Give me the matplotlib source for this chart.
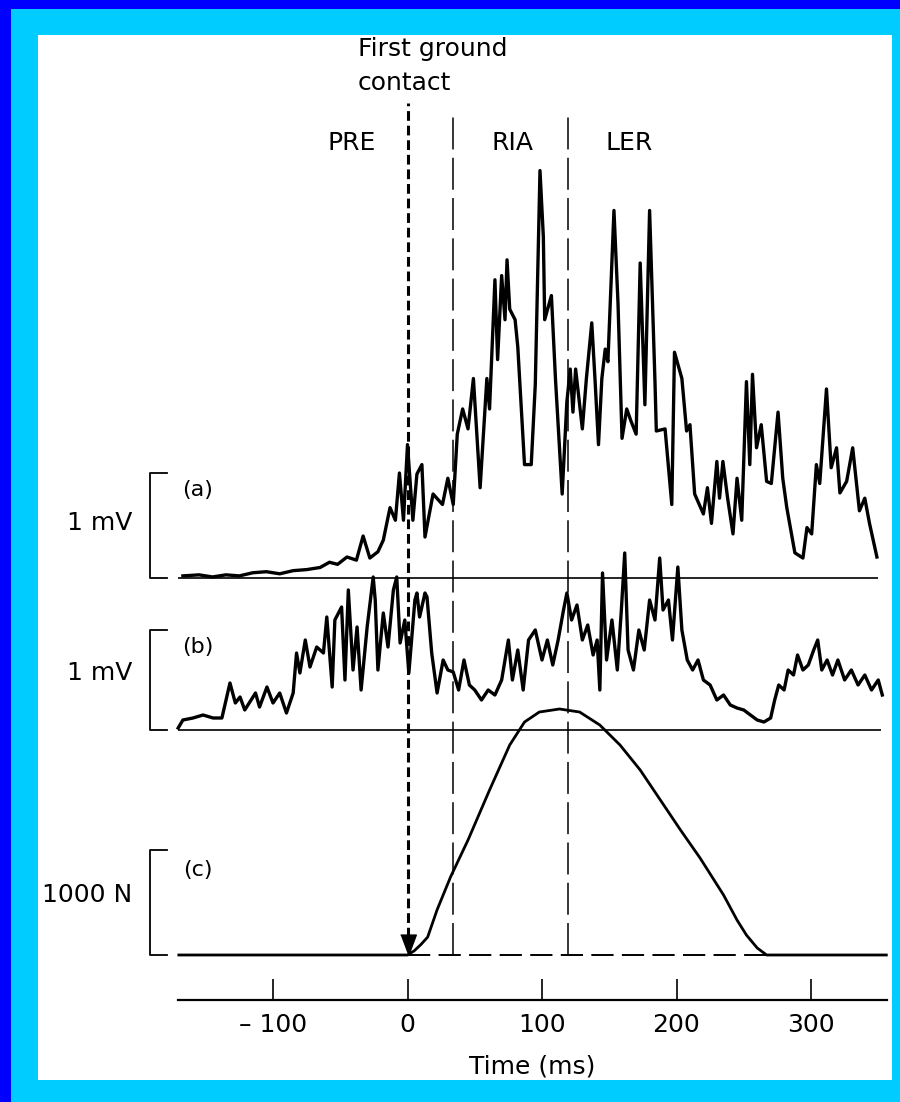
import matplotlib
matplotlib.use('Agg')
import matplotlib.pyplot as plt
from matplotlib.patches import Rectangle

plt.rcParams['font.family'] = ['DejaVu Sans']
plt.rcParams['lines.scale_dashes'] = False

# ---------------- data ----------------
emg_a_t = [-167, -155, -145, -135, -125, -115, -105, -95, -85, -75, -65, -58, -52, -45, -38, -33, -28,
           -22, -18, -13, -9, -6, -3, 0, 4, 7, 10.7, 13, 19, 26, 30, 34, 37, 41, 45, 49, 54, 59, 61, 65,
           67, 70, 72.5, 74, 76, 80, 82, 87, 92, 95, 98.5, 101, 102, 107, 110, 115, 118.5, 121, 123, 125,
           130, 133, 137, 139.5, 142, 144.5, 147, 149, 153.5, 156.5, 159.5, 163, 166, 170, 173, 176.5,
           180, 184, 185, 191.5, 196.5, 198.5, 204, 207.5, 210, 213.5, 220, 223, 226, 230, 232, 234.5,
           238, 242, 245, 248.5, 252, 254.5, 256.5, 259.5, 263, 267, 270.5, 275.5, 279, 282, 288, 294,
           297, 300.5, 304, 306.5, 311.5, 315, 319, 321.5, 326.5, 331, 336, 340, 343.5, 349]
emg_a_mv = [0.02, 0.03, 0.01, 0.03, 0.02, 0.05, 0.06, 0.04, 0.07, 0.08, 0.10, 0.15, 0.13, 0.20, 0.17,
            0.40, 0.19, 0.25, 0.36, 0.67, 0.55, 1.00, 0.55, 1.27, 0.55, 0.99, 1.08, 0.39, 0.80, 0.70,
            0.95, 0.70, 1.37, 1.61, 1.42, 1.90, 0.86, 1.90, 1.61, 2.84, 2.08, 2.88, 2.46, 3.03, 2.56,
            2.46, 2.20, 1.08, 1.08, 1.84, 3.88, 3.25, 2.46, 2.69, 1.90, 0.80, 1.68, 1.99, 1.58, 1.99,
            1.42, 1.90, 2.43, 1.87, 1.27, 1.90, 2.18, 2.06, 3.50, 2.62, 1.33, 1.61, 1.50, 1.37, 3.00,
            1.65, 3.50, 1.87, 1.40, 1.42, 0.70, 2.15, 1.90, 1.40, 1.46, 0.80, 0.61, 0.86, 0.52, 1.11,
            0.76, 1.11, 0.76, 0.42, 0.95, 0.55, 1.87, 1.08, 1.94, 1.24, 1.46, 0.92, 0.90, 1.58, 0.95,
            0.67, 0.24, 0.19, 0.48, 0.42, 1.08, 0.90, 1.80, 1.05, 1.24, 0.81, 0.92, 1.24, 0.64, 0.76,
            0.52, 0.20]

emg_b_t = [-170.5, -167, -159.5, -152, -144.5, -138, -132, -128, -124.5, -121, -113, -110, -104.5, -100,
           -95, -90, -85, -82.5, -80, -76, -72.5, -67.5, -62.5, -60, -56, -54, -49, -46.5, -44, -40.5,
           -37.5, -34.5, -30, -25.5, -24, -22, -18, -14.5, -10.5, -8, -5.5, -2, 1, 5.5, 7, 9, 13, 14.5,
           18, 22, 26.5, 30, 34, 38, 42, 46, 50, 55, 60, 65, 70, 75, 78, 82, 86, 90, 95, 100, 104, 108,
           112, 116, 118.5, 122, 126, 130, 134, 138, 141, 143, 145, 148, 152, 156, 159, 161.5, 164, 168,
           172, 176, 180, 184, 187.5, 190, 194, 197, 201, 204, 208, 212, 216, 220, 225, 230, 235, 240,
           245, 250, 255, 260, 265, 270, 273, 276, 280, 283, 287, 290, 294, 298, 302, 305, 308, 312,
           316, 320, 325, 330, 335, 340, 345, 350, 353]
emg_b_mv = [0.02, 0.10, 0.12, 0.15, 0.12, 0.12, 0.47, 0.27, 0.33, 0.20, 0.37, 0.23, 0.43, 0.27, 0.37,
            0.17, 0.37, 0.77, 0.57, 0.90, 0.63, 0.83, 0.77, 1.13, 0.43, 1.10, 1.23, 0.50, 1.40, 0.60,
            1.03, 0.40, 1.03, 1.53, 1.30, 0.60, 1.17, 0.83, 1.40, 1.53, 0.87, 1.10, 0.57, 1.30, 1.37,
            1.13, 1.37, 1.33, 0.77, 0.37, 0.70, 0.60, 0.58, 0.40, 0.70, 0.45, 0.40, 0.30, 0.40, 0.35,
            0.50, 0.90, 0.50, 0.80, 0.40, 0.90, 1.00, 0.70, 0.90, 0.65, 0.90, 1.20, 1.37, 1.10, 1.25,
            0.90, 1.05, 0.75, 0.90, 0.40, 1.57, 0.70, 1.10, 0.60, 1.20, 1.77, 0.80, 0.60, 1.00, 0.80,
            1.30, 1.10, 1.72, 1.20, 1.30, 0.90, 1.63, 1.00, 0.70, 0.60, 0.70, 0.50, 0.45, 0.30, 0.35,
            0.25, 0.22, 0.20, 0.15, 0.10, 0.08, 0.12, 0.30, 0.45, 0.40, 0.60, 0.55, 0.75, 0.60, 0.65,
            0.80, 0.90, 0.60, 0.70, 0.55, 0.70, 0.50, 0.60, 0.45, 0.55, 0.40, 0.50, 0.35]

force_t = [-170, 0, 5, 10, 15, 22, 32, 45, 61, 76, 87, 98, 113, 128, 143, 158, 173, 188, 203, 217.5,
           235, 245, 252, 260, 267, 356]
force_n = [0, 0, 40, 100, 171, 430, 743, 1095, 1571, 2000, 2219, 2314, 2343, 2314, 2190, 2000, 1762,
           1476, 1190, 924, 571, 333, 190, 67, 0, 0]

event_t = [0, 34, 119]               # first contact, RIA start, LER start
phase_labels = ['PRE', 'RIA', 'LER']
scale_values = [1, 1, 1000]
scale_labels = ['1 mV', '1 mV', '1000 N']
panel_labels = ['(a)', '(b)', '(c)']
time_ticks = [-100, 0, 100, 200, 300]
time_tick_labels = ['\u2013 100', '0', '100', '200', '300']

# ---------------- layout (pixels) ----------------
W, H = 900, 1102
T0_PX, PX_PER_MS = 407.5, 1.345


def t_of(px):
    return (px - T0_PX) / PX_PER_MS


fig = plt.figure(figsize=(W / 100, H / 100), dpi=100)
fig.patch.set_facecolor('#0000FF')
fig.patches.append(Rectangle((11 / W, 0), 1, 1 - 9 / H, transform=fig.transFigure,
                             facecolor='#00CCFF', edgecolor='none', zorder=-10))
fig.patches.append(Rectangle((38 / W, 1 - 1080 / H), (892 - 38) / W, (1080 - 35) / H,
                             transform=fig.transFigure, facecolor='white', edgecolor='none', zorder=-9))


def trace_axes(base_px, px_per_unit):
    ax = fig.add_axes([0, 0, 1, 1])
    ax.set_xlim(t_of(0), t_of(W))
    ax.set_ylim((base_px - H) / px_per_unit, base_px / px_per_unit)
    ax.axis('off')
    ax.patch.set_alpha(0)
    return ax


ax_a = trace_axes(578, 105.0)
ax_b = trace_axes(730, 100.0)
ax_c = trace_axes(955, 0.105)

K = 'black'
# traces
ax_a.plot(emg_a_t, emg_a_mv, color=K, lw=2.4, solid_joinstyle='round')
ax_a.hlines(0, t_of(178), t_of(878), color=K, lw=1.2)
ax_b.plot(emg_b_t, emg_b_mv, color=K, lw=2.4, solid_joinstyle='round')
ax_b.hlines(0, t_of(178), t_of(881), color=K, lw=1.2)
ax_c.plot(force_t, force_n, color=K, lw=2.0, solid_joinstyle='round')
ax_c.hlines(0, 0, force_t[-2], color=K, lw=1.4, linestyle=(0, (16, 6)))

# scale bars
for ax, val, lab, plab, ly, ply in zip([ax_a, ax_b, ax_c], scale_values, scale_labels, panel_labels,
                                       [523, 673, 895], [490, 647, 870]):
    xb, xe = t_of(150), t_of(167)
    ax.plot([xe, xb, xb, xe], [val, val, 0, 0], color=K, lw=1.3)
    fig.text(132 / W, 1 - ly / H, lab, ha='right', va='center', fontsize=18)
    fig.text(198 / W, 1 - ply / H, plab, ha='center', va='center', fontsize=16)

# phase boundaries
top_c = (955 - 117) / 0.105
ax_c.vlines(event_t[1:], 0, top_c, color=K, lw=1.1, linestyle=(0, (23, 6)))
ax_c.vlines(event_t[0], (955 - 937) / 0.105, (955 - 103) / 0.105, color=K, lw=2.2,
            linestyle=(0, (7, 3.5)))
ax_c.plot([event_t[0]], [(955 - 945) / 0.105], marker=[(-0.75, 1), (0.75, 1), (0, -1)],
          markersize=15, color=K, linestyle='none')

fig.text(358 / W, 1 - 49 / H, 'First ground', ha='left', va='center', fontsize=18)
fig.text(358 / W, 1 - 83 / H, 'contact', ha='left', va='center', fontsize=18)
for lab, xpx in zip(phase_labels, [352, 513, 629]):
    fig.text(xpx / W, 1 - 143 / H, lab, ha='center', va='center', fontsize=18)

# time axis
ax_t = fig.add_axes([178 / W, (H - 1000) / H, (887 - 178) / W, 0.03])
ax_t.set_xlim(t_of(178), t_of(887))
ax_t.patch.set_alpha(0)
for s in ['top', 'left', 'right']:
    ax_t.spines[s].set_visible(False)
ax_t.spines['bottom'].set_linewidth(1.6)
ax_t.set_yticks([])
ax_t.set_xticks(time_ticks)
ax_t.set_xticklabels(time_tick_labels, fontsize=18)
ax_t.tick_params(axis='x', direction='in', length=15, width=1.2, pad=9)
ax_t.set_xlabel('Time (ms)', fontsize=18, labelpad=13)

fig.savefig('out.png', dpi=100, facecolor=fig.get_facecolor())
